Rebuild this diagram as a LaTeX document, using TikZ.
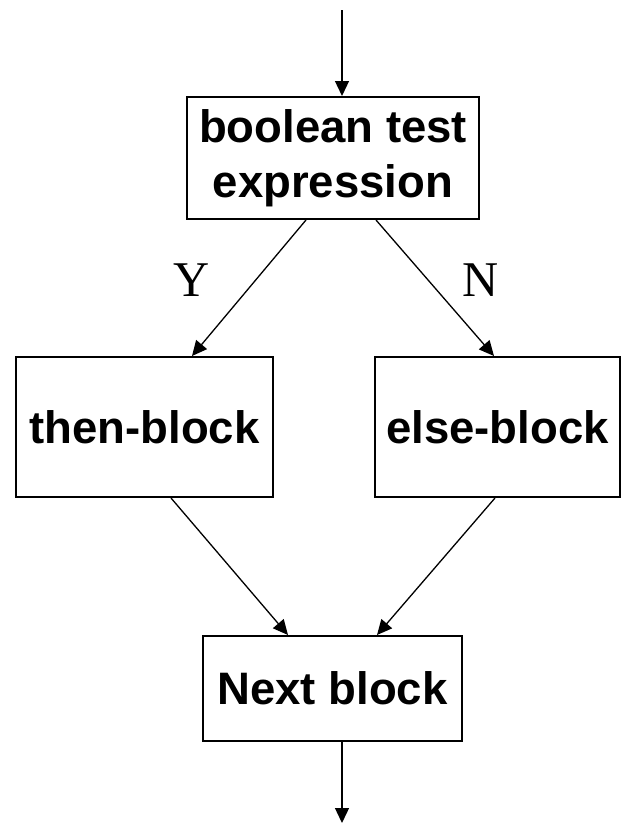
\documentclass[tikz,border=0pt]{standalone}
\usepackage{fontspec}
\setmainfont{Liberation Sans}
\newfontfamily\serifY{Liberation Serif}
\usetikzlibrary{arrows.meta}
\begin{document}
\begin{tikzpicture}[x=1pt,y=-1pt,
  boxnode/.style={draw,line width=2pt,inner sep=0pt,align=center,
    font=\bfseries\fontsize{45.5}{55}\selectfont},
  arr/.style={line width=1.3pt,-{Triangle[length=15pt,width=14pt]}},
  lbl/.style={inner sep=0pt,font=\serifY\fontsize{50}{60}\selectfont}]
\useasboundingbox (0,0) rectangle (622,825);
\node[boxnode,minimum width=292pt,minimum height=122pt] (top) at (333,158) {boolean test\\expression};
\node[boxnode,minimum width=257pt,minimum height=140pt] (then) at (144.5,427) {then-block};
\node[boxnode,minimum width=245pt,minimum height=140pt] (else) at (497.5,427) {else-block};
\node[boxnode,minimum width=259pt,minimum height=105pt] (next) at (332.5,688.5) {Next block};
\node[lbl] (Y) at (192,280) {Y};
\node[lbl] (N) at (481,280) {N};
\coordinate (in) at (342,10);
\coordinate (out) at (342,823);
\draw[arr] (in) -- (top.north -| in);
\draw[arr] ([xshift=-27pt]top.south) -- ([xshift=47.5pt]then.north);
\draw[arr] ([xshift=43pt]top.south) -- ([xshift=-3.5pt]else.north);
\draw[arr] ([xshift=26.5pt]then.south) -- ([xshift=-44.5pt]next.north);
\draw[arr] ([xshift=-2.5pt]else.south) -- ([xshift=44.5pt]next.north);
\draw[arr] (next.south -| out) -- (out);
\end{tikzpicture}
\end{document}
